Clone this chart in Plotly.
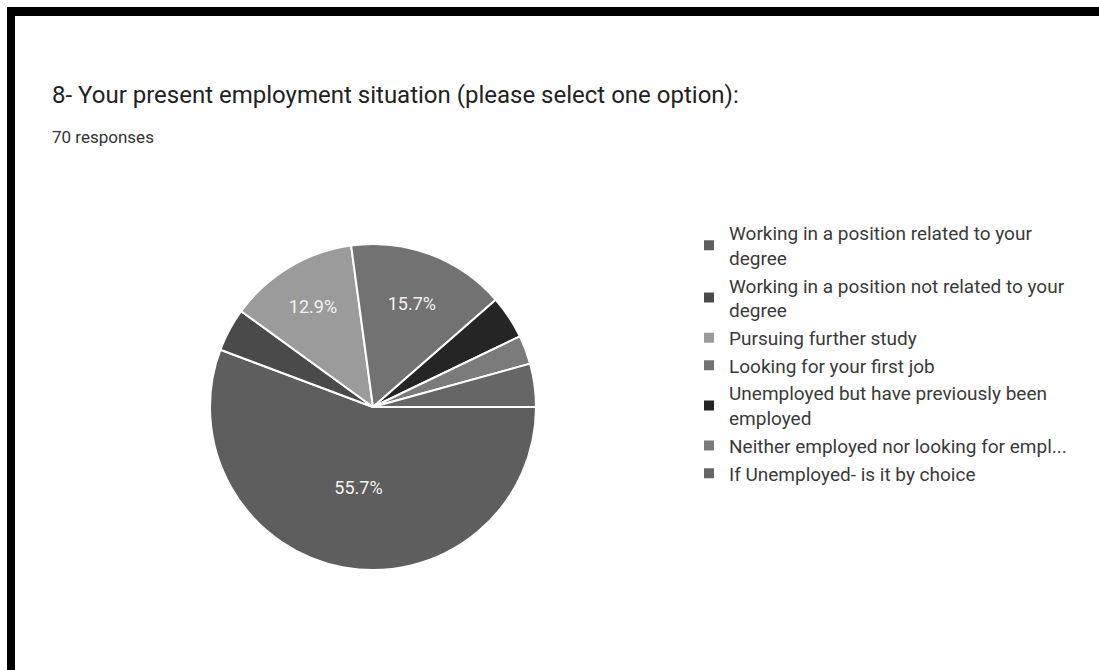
import plotly.graph_objects as go

W, H = 1099, 670

title_text = "8- Your present employment situation (please select one option):"
subtitle_text = "70 responses"

labels = [
    "Working in a position related to your<br>degree",
    "Working in a position not related to your<br>degree",
    "Pursuing further study",
    "Looking for your first job",
    "Unemployed but have previously been<br>employed",
    "Neither employed nor looking for empl...",
    "If Unemployed- is it by choice",
]
values = [39, 3, 9, 11, 3, 2, 3]
colors = ["#5e5e5e", "#4a4a4a", "#9b9b9b", "#727272", "#252525", "#7b7b7b", "#666666"]

total = sum(values)
templates = ["%{percent:.1%}" if v / total > 0.1 else "" for v in values]


def px_x(p):
    return p / W


def px_y(p):
    return 1 - p / H


fig = go.Figure()
fig.add_trace(go.Pie(
    labels=labels,
    values=values,
    sort=False,
    direction="clockwise",
    rotation=90,
    marker=dict(colors=colors, line=dict(color="white", width=2)),
    texttemplate=templates,
    textposition="inside",
    insidetextorientation="horizontal",
    textfont=dict(family="Roboto", size=18, color="#f2f2f2"),
    domain=dict(x=[px_x(210), px_x(536)], y=[px_y(570), px_y(244)]),
    hoverinfo="label+value+percent",
))

fig.update_layout(
    width=W, height=H,
    margin=dict(l=0, r=0, t=0, b=0),
    paper_bgcolor="white",
    plot_bgcolor="white",
    showlegend=True,
    legend=dict(
        x=px_x(689), y=px_y(214), xanchor="left", yanchor="top",
        font=dict(family="Roboto", size=19, color="#3a3a3a"),
        bgcolor="rgba(0,0,0,0)",
    ),
    annotations=[
        dict(text=title_text, x=px_x(50), y=px_y(95), xref="paper", yref="paper",
             xanchor="left", yanchor="middle", showarrow=False,
             font=dict(family="Roboto", size=24, color="#222222")),
        dict(text=subtitle_text, x=px_x(50), y=px_y(137), xref="paper", yref="paper",
             xanchor="left", yanchor="middle", showarrow=False,
             font=dict(family="Roboto", size=17, color="#333333")),
    ],
    shapes=[
        dict(type="rect", xref="paper", yref="paper",
             x0=px_x(7), x1=1, y0=px_y(16), y1=px_y(7),
             fillcolor="black", line=dict(width=0)),
        dict(type="rect", xref="paper", yref="paper",
             x0=px_x(7), x1=px_x(15), y0=0, y1=px_y(7),
             fillcolor="black", line=dict(width=0)),
    ],
)

fig.write_html(
    "out.html",
    config={"displayModeBar": False},
    post_script="document.body.style.margin='0';document.body.style.overflow='hidden';",
)
